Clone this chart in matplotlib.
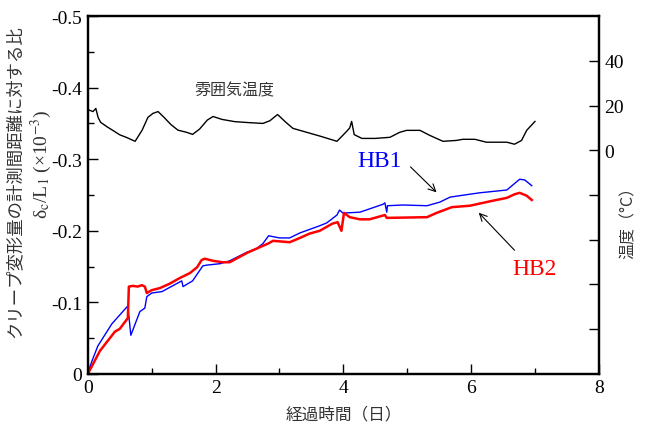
import matplotlib
matplotlib.use("Agg")
import matplotlib.pyplot as plt
from matplotlib.ticker import MultipleLocator, FixedLocator

plt.rcParams.update({
    "font.family": ["Liberation Serif", "Noto Sans CJK JP"],
    "mathtext.fontset": "stix",
    "font.size": 13,
})
JP = ["Noto Sans CJK JP", "DejaVu Sans"]

# ambient temperature (deg C) vs elapsed days
temp_day = [0.0, 0.08, 0.125, 0.16, 0.2, 0.3, 0.39, 0.5, 0.6, 0.74, 0.85,
            0.94, 1.02, 1.10, 1.2, 1.3, 1.41, 1.55, 1.64, 1.75, 1.87, 1.96,
            2.1, 2.3, 2.5, 2.74, 2.85, 2.97, 3.1, 3.21, 3.43, 3.65, 3.90,
            4.05, 4.10, 4.13, 4.17, 4.29, 4.5, 4.73, 4.88, 4.99, 5.20, 5.35,
            5.56, 5.77, 5.87, 6.06, 6.24, 6.56, 6.68, 6.79, 6.87, 7.0]
temp_val = [18.2, 17.3, 18.7, 14.7, 12.5, 10.5, 8.9, 6.9, 5.8, 4.0, 9.0,
            14.7, 16.5, 17.3, 14.5, 11.5, 9.0, 8.0, 7.1, 9.5, 13.5, 15.1,
            13.8, 12.8, 12.4, 12.0, 13.2, 16.0, 12.5, 9.8, 8.0, 6.2, 4.0,
            8.4, 10.0, 12.9, 7.0, 5.3, 5.3, 5.8, 8.0, 8.9, 8.9, 6.7,
            4.0, 4.4, 4.9, 4.9, 3.6, 3.6, 2.7, 4.4, 8.9, 12.9]

# HB1 creep ratio (x1e-3)
hb1_day = [0.0, 0.06, 0.156, 0.376, 0.626, 0.673, 0.814, 0.892, 0.923, 1.00,
           1.16, 1.47, 1.49, 1.64, 1.80, 1.86, 2.07, 2.22, 2.49, 2.64, 2.74,
           2.83, 3.00, 3.16, 3.32, 3.63, 3.74, 3.90, 3.94, 3.99, 4.05, 4.26,
           4.62, 4.65, 4.68, 4.69, 4.93, 5.31, 5.51, 5.67, 5.82, 6.13, 6.56,
           6.64, 6.76, 6.84, 6.95]
hb1_val = [0.0, -0.017, -0.039, -0.070, -0.095, -0.054, -0.087, -0.092, -0.108, -0.113,
           -0.115, -0.130, -0.122, -0.130, -0.151, -0.152, -0.154, -0.158, -0.170, -0.175, -0.182,
           -0.193, -0.190, -0.190, -0.197, -0.207, -0.211, -0.222, -0.229, -0.225, -0.225, -0.226,
           -0.237, -0.239, -0.226, -0.235, -0.236, -0.235, -0.240, -0.247, -0.249, -0.253, -0.257,
           -0.263, -0.272, -0.271, -0.263]

# HB2 creep ratio (x1e-3)
hb2_day = [0.0, 0.188, 0.423, 0.50, 0.626, 0.642, 0.704, 0.78, 0.845, 0.892,
           0.923, 1.00, 1.13, 1.28, 1.44, 1.60, 1.71, 1.78, 1.83, 1.96, 2.11,
           2.22, 2.49, 2.74, 2.82, 2.90, 3.16, 3.32, 3.47, 3.63, 3.83, 3.91,
           3.97, 4.01, 4.10, 4.26, 4.41, 4.65, 4.68, 5.31, 5.46, 5.70, 5.98,
           6.34, 6.56, 6.68, 6.76, 6.87, 6.95]
hb2_val = [0.0, -0.032, -0.059, -0.063, -0.078, -0.122, -0.123, -0.122, -0.124, -0.122,
           -0.113, -0.117, -0.120, -0.126, -0.134, -0.141, -0.149, -0.159, -0.161, -0.158, -0.156,
           -0.156, -0.169, -0.179, -0.182, -0.186, -0.184, -0.190, -0.196, -0.200, -0.210, -0.212,
           -0.200, -0.225, -0.219, -0.216, -0.216, -0.222, -0.218, -0.219, -0.225, -0.233, -0.235,
           -0.242, -0.246, -0.251, -0.253, -0.249, -0.243]

fig = plt.figure(figsize=(6.46, 4.27), dpi=100)
ax = fig.add_axes([0.136, 0.122, 0.791, 0.838])
ax2 = ax.twinx()

ax.plot(hb1_day, hb1_val, color="#0000ff", lw=1.0)
ax.plot(hb2_day, hb2_val, color="#ff0000", lw=1.8)
ax2.plot(temp_day, temp_val, color="black", lw=1.0)

ax.set_xlim(0, 8)
ax.set_ylim(0, -0.5)
ax2.set_ylim(-100, 60)

ax.xaxis.set_major_locator(MultipleLocator(2))
ax.xaxis.set_minor_locator(MultipleLocator(1))
ax.yaxis.set_minor_locator(MultipleLocator(0.05))
ax.set_yticks([0, -0.1, -0.2, -0.3, -0.4, -0.5])
ax.set_yticklabels(["0", "-0.1", "-0.2", "-0.3", "-0.4", "-0.5"])
ax.tick_params(which="both", direction="in", top=False, right=False, width=1.0)
ax.tick_params(which="major", length=7, labelsize=14, pad=4)
ax.tick_params(which="minor", length=4)

rt = [-80, -60, -40, -20, 0, 20, 40]
ax2.yaxis.set_major_locator(FixedLocator(rt))
ax2.set_yticklabels(["" if v < 0 else str(v) for v in rt])
ax2.tick_params(direction="in", length=7, width=1.0, labelsize=14, pad=4)

for s in ax.spines.values():
    s.set_linewidth(1.6)
for s in ax2.spines.values():
    s.set_linewidth(1.6)

ax.text(2.29, -0.397, "雰囲気温度", family=JP, fontsize=11.5, color="#333333",
        ha="center", va="center")
ax.text(4.57, -0.2975, "HB1", color="#0000ff", fontsize=17, ha="center", va="center")
ax.text(7.0, -0.147, "HB2", color="#ff0000", fontsize=17, ha="center", va="center")
ax.annotate("", xy=(5.49, -0.251), xytext=(5.02, -0.292),
            arrowprops=dict(arrowstyle="->", color="black", lw=0.8))
ax.annotate("", xy=(6.09, -0.228), xytext=(6.71, -0.170),
            arrowprops=dict(arrowstyle="->", color="black", lw=0.8))

fig.text(0.5 * (88 + 599) / 646, 0.028, "経過時間（日）", family=JP, fontsize=12,
         color="#333333", ha="center", va="center")
fig.text(0.023, 0.574, "クリープ変形量の計測間距離に対する比", family=JP, fontsize=12.5,
         color="#333333", rotation=90, ha="center", va="center")
fig.text(0.064, 0.614, r"δ$_{\rm c}$/L$_{\rm 1}$ (×10$^{-3}$)", fontsize=14,
         color="#333333", rotation=90, ha="center", va="center")
fig.text(0.972, 0.487, "温度（°C）", family=JP, fontsize=11.5,
         color="#333333", rotation=90, ha="center", va="center")

fig.savefig("out.png", dpi=100)
